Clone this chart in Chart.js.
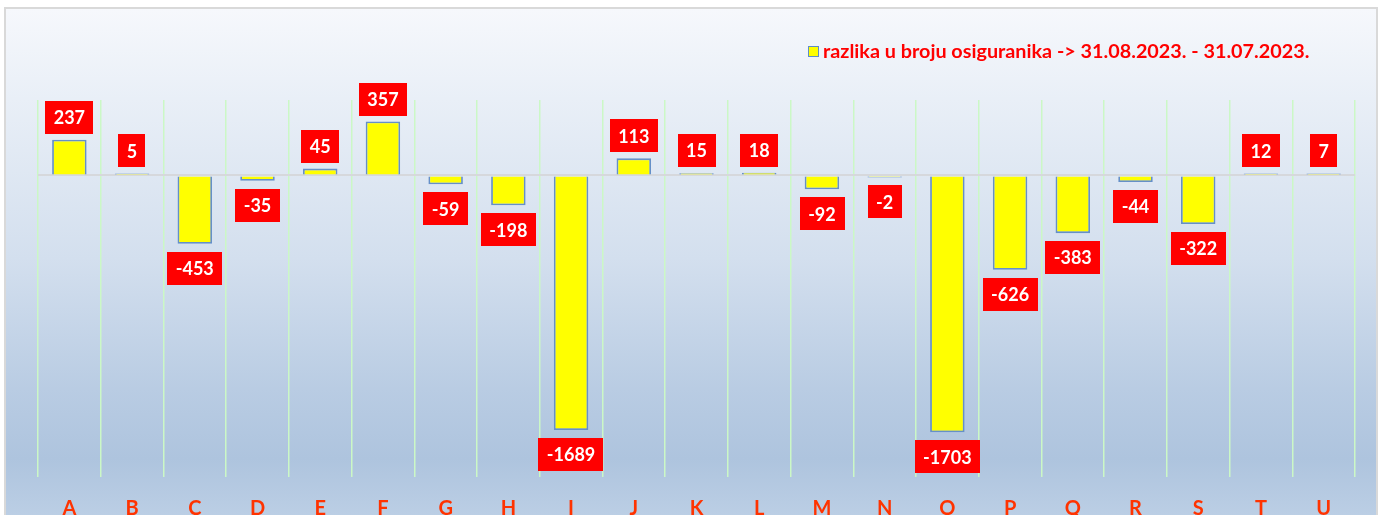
<!DOCTYPE html>
<html><head><meta charset="utf-8">
<script src="https://cdn.jsdelivr.net/npm/chart.js@4.4.0/dist/chart.umd.min.js"></script>
<style>
html,body{margin:0;padding:0;background:#fff;overflow:hidden;width:1384px;height:515px}
#wrap{position:relative;width:1384px;height:515px;overflow:hidden}
#frame{position:absolute;left:4px;top:7px;width:1370px;height:530px;border:2px solid #d9d9d9;
background:linear-gradient(to bottom,#f6f8fc 0px,#e9eff7 90px,#d3dfee 250px,#b9cce3 380px,#aec4de 450px,#bccfe5 510px,#c3d4e8 530px)}
#cv{position:absolute;left:0;top:0}
#legend{position:absolute;left:808px;top:39px;font-family:Lato,"Open Sans",sans-serif;font-weight:bold;font-size:19.8px;color:#ff0000;white-space:nowrap;line-height:22px}
#legend .sw{display:inline-block;width:9px;height:9px;background:#ffff00;border:1.5px solid #5f8dc6;margin-right:4px;vertical-align:1px}
</style></head>
<body>
<div id="wrap">
<div id="frame"></div>
<canvas id="cv" width="1384" height="551" style="width:1384px;height:551px"></canvas>
<div id="legend"></div>
</div>
<script>
const categories = ["A","B","C","D","E","F","G","H","I","J","K","L","M","N","O","P","Q","R","S","T","U"];
const seriesLabel = "razlika u broju osiguranika -> 31.08.2023. - 31.07.2023.";
const values = [237,5,-453,-35,45,357,-59,-198,-1689,113,15,18,-92,-2,-1703,-626,-383,-44,-322,12,7];

document.getElementById('legend').innerHTML = '<span class="sw"></span>' + seriesLabel;

const labelBoxes = {
  id: 'labelBoxes',
  afterDatasetsDraw(chart) {
    const ctx = chart.ctx;
    const meta = chart.getDatasetMeta(0);
    const data = chart.data.datasets[0].data;
    ctx.save();
    ctx.font = 'bold 18px Lato, "Open Sans", sans-serif';
    ctx.textAlign = 'center';
    ctx.textBaseline = 'middle';
    meta.data.forEach((bar, i) => {
      const v = data[i];
      const txt = String(v);
      const w = ctx.measureText(txt).width + 17;
      const h = 33;
      const base = chart.scales.y.getPixelForValue(0);
      let cy;
      if (v >= 0) {
        cy = Math.min(bar.y, base) - 6 - h / 2;
      } else {
        cy = Math.max(bar.y, base) + 8 + h / 2;
      }
      ctx.fillStyle = '#ff0000';
      ctx.fillRect(Math.round(bar.x - w / 2), Math.round(cy - h / 2), Math.round(w), h);
      ctx.fillStyle = '#ffffff';
      ctx.fillText(txt, bar.x, cy + 1);
    });
    ctx.restore();
  }
};

new Chart(document.getElementById('cv'), {
  type: 'bar',
  data: {
    labels: categories,
    datasets: [{
      label: seriesLabel,
      data: values,
      backgroundColor: '#ffff00',
      borderColor: '#6590c8',
      borderWidth: 1.8,
      minBarLength: 2,
      barPercentage: 0.55,
      categoryPercentage: 1.0
    }]
  },
  options: {
    responsive: false,
    animation: false,
    devicePixelRatio: 1,
    layout: { padding: { left: 38, right: 29, top: 100, bottom: 10 } },
    plugins: { legend: { display: false }, tooltip: { enabled: false } },
    scales: {
      x: {
        offset: true,
        grid: { offset: true, display: true, color: '#cbf8c6', lineWidth: 1.5, drawTicks: false },
        border: { display: false },
        ticks: { color: '#ff3300', font: { family: 'Lato', weight: 'bold', size: 20 }, padding: 20 }
      },
      y: {
        min: -2000, max: 500,
        ticks: { display: false, stepSize: 500 },
        grid: { drawTicks: false, color: (c) => c.tick && c.tick.value === 0 ? '#d6d8dc' : 'rgba(0,0,0,0)', lineWidth: 2 },
        border: { display: false }
      }
    }
  },
  plugins: [labelBoxes]
});
</script>
</body></html>
